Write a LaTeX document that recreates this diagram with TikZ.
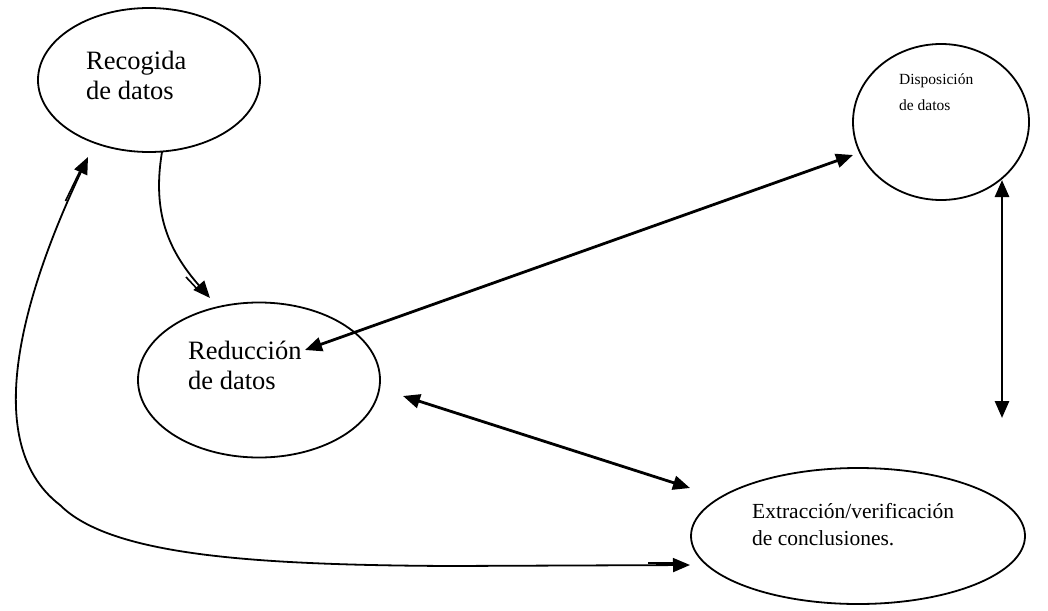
\documentclass[tikz,border=0pt]{standalone}
\usepackage{fontspec}
\setmainfont{Liberation Serif}
\usetikzlibrary{shapes.geometric,arrows.meta}
\tikzset{
  oval/.style={draw=black, line width=1.8pt, ellipse, inner sep=0pt},
  lbl/.style={anchor=base west, align=left, inner sep=0pt},
  big/.style={font=\fontsize{26.5}{30}\selectfont},
  small/.style={font=\fontsize{15.5}{26}\selectfont},
  mid/.style={font=\fontsize{21.5}{27}\selectfont},
  thin arrow/.style={line width=1.8pt, -{Triangle[length=17pt,width=14pt]}},
  thick dbl/.style={line width=2.8pt, {Triangle[length=17pt,width=14pt]}-{Triangle[length=17pt,width=14pt]}},
  thin dbl/.style={line width=1.8pt, {Triangle[length=17pt,width=14pt]}-{Triangle[length=17pt,width=14pt]}},
  tick/.style={line width=1.6pt},
}
\begin{document}
\begin{tikzpicture}[x=1pt,y=-1pt]
\useasboundingbox (0,0) rectangle (1048,610);

% ellipses
\node[oval, minimum width=222pt, minimum height=144pt] (rec) at (149,80) {};
\node[oval, minimum width=242pt, minimum height=155pt] (red) at (259,380) {};
\node[oval, minimum width=176pt, minimum height=156pt] (dis) at (941,122) {};
\node[oval, minimum width=334pt, minimum height=136pt] (ext) at (858,536) {};

% labels (anchored at the baseline of the last line)
\node[lbl, big] (trec) at (86,99) {Recogida\\de datos};
\node[lbl, big] (tred) at (188,389) {Reducción\\de datos};
\node[lbl, small] (tdis) at (899,110) {Disposición\\de datos};
\node[lbl, mid] (text) at (752,545) {Extracción/verificación\\de conclusiones.};

% connector end points
\coordinate (recB) at (162,152);
\coordinate (redT) at (210,298);
\coordinate (recL) at (88,157);
\coordinate (extL) at (690,565);
\coordinate (redR) at (305,350);
\coordinate (disL) at (853,155);
\coordinate (redE) at (403,396);
\coordinate (extT) at (690,488);
\coordinate (vTop) at (1002,180);
\coordinate (vBot) at (1002,418);

% connectors
\draw[thin arrow] (recB) .. controls (152,212) and (168,250) .. (redT);
\draw[thin dbl] (recL) .. controls (30,280) and (-25,440) .. (60,505)
   .. controls (110,555) and (250,565) .. (450,566) -- (extL);
\draw[thick dbl] (redR) -- (disL);
\draw[thick dbl] (redE) -- (extT);
\draw[thick dbl] (vTop) -- (vBot);

% short doubled strokes next to the curved arrows' heads
\draw[tick] (65.5,201) -- (79.5,172);
\draw[tick] (186,277) -- (200,292);
\draw[tick] (648,563) -- (678,563);
\end{tikzpicture}
\end{document}
